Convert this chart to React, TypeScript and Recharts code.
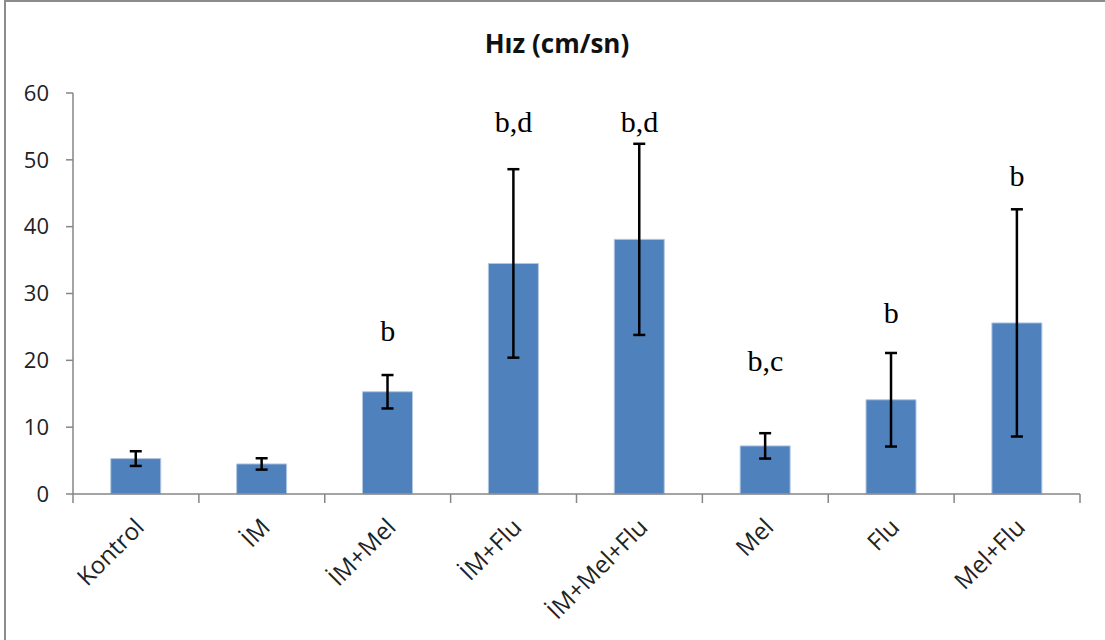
import React from "react";
import { BarChart, Bar, XAxis, YAxis, ErrorBar, ReferenceDot } from "recharts";

const groups = ["Kontrol", "İM", "İM+Mel", "İM+Flu", "İM+Mel+Flu", "Mel", "Flu", "Mel+Flu"];
const speed = [5.3, 4.5, 15.3, 34.5, 38.1, 7.2, 14.1, 25.6];
const speedErr = [1.1, 0.85, 2.5, 14.1, 14.3, 1.9, 7.0, 17.0];
const yTicks = [0, 10, 20, 30, 40, 50, 60];
// significance letters and the height (in cm/sn) they sit at
const marks = ["", "", "b", "b,d", "b,d", "b,c", "b", "b"];
const markAt = [0, 0, 24.5, 55.7, 55.7, 20.0, 27.2, 47.7];

const W = 1105;
const H = 640;
const LEFT = 73;
const RIGHT = 25;
const STEP = (W - LEFT - RIGHT) / groups.length;
const AXIS = "#868686";
const SANS = "'Open Sans', sans-serif";

const data = groups.map((g, i) => ({ name: g, speed: speed[i], err: speedErr[i] }));

function CatTick(props: any) {
  const { x, y, payload, index } = props;
  const last = index === groups.length - 1;
  const tx = x + 3;
  const ty = y + 28;
  return (
    <g>
      <line x1={x - STEP / 2} y1={y} x2={x - STEP / 2} y2={y + 9} stroke={AXIS} strokeWidth={1.5} />
      {last && <line x1={x + STEP / 2} y1={y} x2={x + STEP / 2} y2={y + 9} stroke={AXIS} strokeWidth={1.5} />}
      <text
        x={tx}
        y={ty}
        transform={`rotate(-45, ${tx}, ${ty})`}
        textAnchor="end"
        dominantBaseline="central"
        fontFamily={SANS}
        fontSize={24}
        fill="#222"
      >
        {payload.value}
      </text>
    </g>
  );
}

export default function App() {
  return (
    <div style={{ position: "absolute", left: 0, top: 0, width: W, height: H, background: "#fff", overflow: "hidden" }}>
      <div
        style={{
          position: "absolute",
          left: 4,
          top: 0,
          width: W + 10,
          height: H + 10,
          borderLeft: "2px solid #8c8c8c",
          borderTop: "2px solid #8c8c8c",
        }}
      />
      <div
        style={{
          position: "absolute",
          left: 457,
          top: 27,
          width: 200,
          textAlign: "center",
          fontFamily: SANS,
          fontWeight: 700,
          fontSize: 26,
          lineHeight: "32px",
          color: "#111",
        }}
      >
        Hız (cm/sn)
      </div>
      <div style={{ position: "absolute", left: 0, top: 0 }}>
        <BarChart
          width={W}
          height={H}
          data={data}
          margin={{ top: 93, right: RIGHT, left: 0, bottom: 0 }}
          barCategoryGap="30%"
        >
          <XAxis
            dataKey="name"
            height={H - 93 - 401}
            interval={0}
            tickLine={false}
            tickSize={0}
            tickMargin={0}
            axisLine={{ stroke: AXIS, strokeWidth: 1.5 }}
            tick={<CatTick />}
          />
          <YAxis
            width={LEFT}
            domain={[0, 60]}
            ticks={yTicks}
            interval={0}
            tickSize={7}
            tickMargin={17}
            axisLine={{ stroke: AXIS, strokeWidth: 1.5 }}
            tickLine={{ stroke: AXIS, strokeWidth: 1.5 }}
            tick={{ fontFamily: SANS, fontSize: 22, fill: "#222" }}
          />
          <Bar dataKey="speed" fill="#4f81bd" stroke="#b3c7e2" strokeWidth={1} isAnimationActive={false}>
            <ErrorBar dataKey="err" direction="y" width={6} stroke="#000" strokeWidth={2.5} />
          </Bar>
          {groups.map((g, i) =>
            marks[i] ? (
              <ReferenceDot
                key={g}
                x={g}
                y={markAt[i]}
                r={0}
                fill="none"
                stroke="none"
                label={{
                  value: marks[i],
                  position: "center",
                  fill: "#000",
                  fontSize: 30,
                  fontFamily: "'Liberation Serif', serif",
                }}
              />
            ) : null
          )}
        </BarChart>
      </div>
    </div>
  );
}
